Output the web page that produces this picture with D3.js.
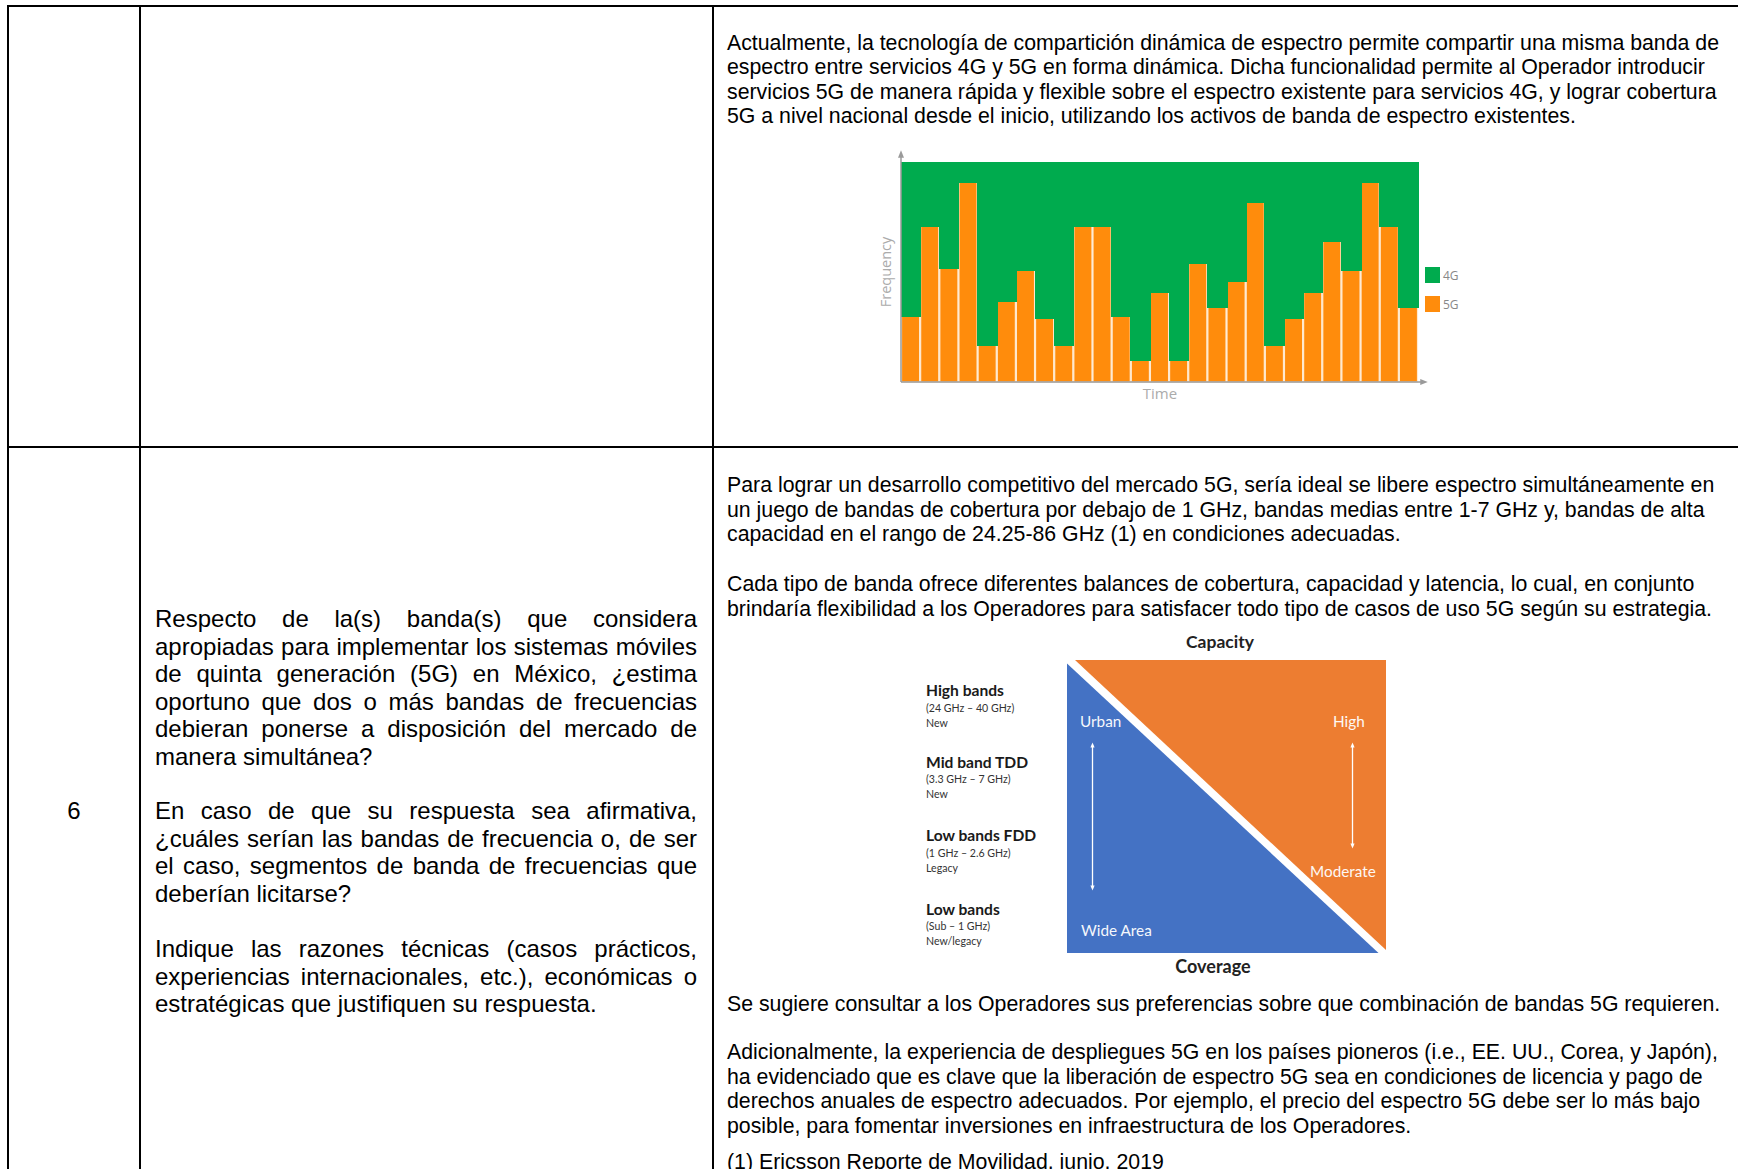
<!DOCTYPE html>
<html><head><meta charset="utf-8">
<script src="https://cdn.jsdelivr.net/npm/d3@7"></script>
<style>html,body{margin:0;padding:0;background:#fff;}svg{display:block;}</style>
</head><body>
<svg id="c" width="1738" height="1169"></svg>
<script>
// ---------- DATA ----------
const timeSlots = ["t1","t2","t3","t4","t5","t6","t7","t8","t9","t10","t11","t12","t13","t14","t15","t16","t17","t18","t19","t20","t21","t22","t23","t24","t25","t26","t27"];
const share5G = [30, 71, 52, 91, 17, 37, 51, 29, 17, 71, 71, 30, 10, 41, 10, 54, 34, 46, 82, 17, 29, 41, 64, 51, 91, 71, 34];
const share4G = [70, 29, 48, 9, 83, 63, 49, 71, 83, 29, 29, 70, 90, 59, 90, 46, 66, 54, 18, 83, 71, 59, 36, 49, 9, 29, 66];
const seriesNames = ["4G", "5G"];
const seriesColors = ["#00AB4E", "#FF8C0C"];
const axisTitles = {x: "Time", y: "Frequency"};

const bandNames = ["High bands", "Mid band TDD", "Low bands FDD", "Low bands"];
const bandRanges = ["(24 GHz \u2013 40 GHz)", "(3.3 GHz \u2013 7 GHz)", "(1 GHz \u2013 2.6 GHz)", "(Sub \u2013 1 GHz)"];
const bandStatus = ["New", "New", "Legacy", "New/legacy"];

const questionLines = [
  ["Respecto de la(s) banda(s) que considera", true],
  ["apropiadas para implementar los sistemas móviles", true],
  ["de quinta generación (5G) en México, ¿estima", true],
  ["oportuno que dos o más bandas de frecuencias", true],
  ["debieran ponerse a disposición del mercado de", true],
  ["manera simultánea?", false],
  ["En caso de que su respuesta sea afirmativa,", true],
  ["¿cuáles serían las bandas de frecuencia o, de ser", true],
  ["el caso, segmentos de banda de frecuencias que", true],
  ["deberían licitarse?", false],
  ["Indique las razones técnicas (casos prácticos,", true],
  ["experiencias internacionales, etc.), económicas o", true],
  ["estratégicas que justifiquen su respuesta.", false]
];
const questionBaselines = [627, 654.5, 682, 709.5, 737, 764.5, 819, 846.5, 874, 901.5, 957, 984.5, 1012];

const topAnswer = [
  "Actualmente, la tecnología de compartición dinámica de espectro permite compartir una misma banda de",
  "espectro entre servicios 4G y 5G en forma dinámica. Dicha funcionalidad permite al Operador introducir",
  "servicios 5G de manera rápida y flexible sobre el espectro existente para servicios 4G, y lograr cobertura",
  "5G a nivel nacional desde el inicio, utilizando los activos de banda de espectro existentes."
];
const topBaselines = [49.5, 74, 98.5, 122.5];
const answerA = [
  "Para lograr un desarrollo competitivo del mercado 5G, sería ideal se libere espectro simultáneamente en",
  "un juego de bandas de cobertura por debajo de 1 GHz, bandas medias entre 1-7 GHz y, bandas de alta",
  "capacidad en el rango de 24.25-86 GHz (1) en condiciones adecuadas.",
  "Cada tipo de banda ofrece diferentes balances de cobertura, capacidad y latencia, lo cual, en conjunto",
  "brindaría flexibilidad a los Operadores para satisfacer todo tipo de casos de uso 5G según su estrategia."
];
const answerABaselines = [492, 516.5, 541, 591, 615.5];
const answerB = [
  "Se sugiere consultar a los Operadores sus preferencias sobre que combinación de bandas 5G requieren.",
  "Adicionalmente, la experiencia de despliegues 5G en los países pioneros (i.e., EE. UU., Corea, y Japón),",
  "ha evidenciado que es clave que la liberación de espectro 5G sea en condiciones de licencia y pago de",
  "derechos anuales de espectro adecuados. Por ejemplo, el precio del espectro 5G debe ser lo más bajo",
  "posible, para fomentar inversiones en infraestructura de los Operadores.",
  "(1) Ericsson Reporte de Movilidad, junio, 2019"
];
const answerBBaselines = [1011, 1059, 1083.5, 1108, 1132.5, 1169];

// ---------- DRAW ----------
const svg = d3.select("#c");
const defs = svg.append("defs");
defs.append("marker").attr("id","gArrow").attr("viewBox","0 0 10 10").attr("refX",5).attr("refY",5)
  .attr("markerWidth",5).attr("markerHeight",5).attr("orient","auto-start-reverse")
  .append("path").attr("d","M0,1 L10,5 L0,9 z").attr("fill","#9a9a9a");
defs.append("marker").attr("id","wArrow").attr("viewBox","0 0 10 10").attr("refX",5).attr("refY",5)
  .attr("markerWidth",4).attr("markerHeight",4).attr("orient","auto-start-reverse")
  .append("path").attr("d","M0,1 L10,5 L0,9 z").attr("fill","#fff");

// table grid
const grid = svg.append("g").attr("stroke","#000").attr("stroke-width",2).attr("fill","none");
[6, 447].forEach(y => grid.append("line").attr("x1",7).attr("x2",1738).attr("y1",y).attr("y2",y));
[8, 140, 713].forEach(x => grid.append("line").attr("x1",x).attr("x2",x).attr("y1",5).attr("y2",1169));

// row number
svg.append("text").attr("x",74).attr("y",819).attr("text-anchor","middle")
  .attr("font-family","'Liberation Sans', Arial, sans-serif").attr("font-size",24).text("6");

// justified question text
const qg = svg.append("g").attr("font-family","'Liberation Sans', Arial, sans-serif").attr("font-size",24).attr("fill","#000");
const qLeft = 155, qRight = 697;
questionLines.forEach(([line, just], i) => {
  const y = questionBaselines[i];
  if (!just) { qg.append("text").attr("x",qLeft).attr("y",y).text(line); return; }
  const words = line.split(" ");
  const widths = words.map(w => {
    const t = qg.append("text").text(w);
    const wd = t.node().getComputedTextLength(); t.remove(); return wd;
  });
  const total = d3.sum(widths);
  const gap = (qRight - qLeft - total) / (words.length - 1);
  const t = qg.append("text").attr("y", y);
  let x = qLeft;
  words.forEach((w, k) => { t.append("tspan").attr("x", x).text(w); x += widths[k] + gap; });
});

// right column text
const ag = svg.append("g").attr("font-family","'Liberation Sans', Arial, sans-serif").attr("font-size",21.3).attr("fill","#000");
function block(lines, ys) {
  lines.forEach((l, i) => ag.append("text").attr("x",727).attr("y",ys[i]).text(l));
}
block(topAnswer, topBaselines);
block(answerA, answerABaselines);
block(answerB, answerBBaselines);

// ---------- Bar chart (DSS) ----------
const bc = {left: 901, right: 1418, top: 162, bottom: 382};
const x = d3.scaleBand().domain(timeSlots).range([bc.left, bc.right]).padding(0);
const y = d3.scaleLinear().domain([0, 100]).range([bc.bottom, bc.top]);
const stackData = timeSlots.map((t, i) => ({slot: t, "5G": share5G[i], "4G": share4G[i]}));
const stacked = d3.stack().keys(["5G", "4G"])(stackData);
const color = d3.scaleOrdinal().domain(seriesNames).range(seriesColors);
const barG = svg.append("g");
stacked.forEach(layer => {
  const is5 = layer.key === "5G";
  barG.append("g").attr("shape-rendering", is5 ? "auto" : "crispEdges")
    .selectAll("rect").data(layer).join("rect")
    .attr("x", d => x(d.data.slot) + (is5 ? 0.5 : -0.5))
    .attr("width", d => x.bandwidth() + (is5 ? -1 : 1.5))
    .attr("y", d => y(d[1]))
    .attr("height", d => y(d[0]) - y(d[1]) + (is5 ? 0 : 1))
    .attr("fill", color(layer.key))
    .attr("stroke", is5 ? "#ffe9cf" : "none")
    .attr("stroke-width", 1.2);
});
// axes with arrows
svg.append("line").attr("x1",bc.left).attr("x2",bc.left).attr("y1",bc.bottom).attr("y2",bc.top - 8)
  .attr("stroke","#9a9a9a").attr("stroke-width",1.5).attr("marker-end","url(#gArrow)");
svg.append("line").attr("x1",bc.left).attr("x2",bc.right + 6).attr("y1",bc.bottom).attr("y2",bc.bottom)
  .attr("stroke","#9a9a9a").attr("stroke-width",1.5).attr("marker-end","url(#gArrow)");
svg.append("text").attr("transform",`translate(${bc.left - 10},${(bc.top + bc.bottom)/2}) rotate(-90)`)
  .attr("text-anchor","middle").attr("font-family","'Open Sans', sans-serif").attr("font-size",14.5)
  .attr("fill","#ababab").text(axisTitles.y);
svg.append("text").attr("x",1160).attr("y",399).attr("text-anchor","middle")
  .attr("font-family","'Open Sans', sans-serif").attr("font-size",15).attr("fill","#ababab").text(axisTitles.x);
// legend
const lg = svg.append("g").attr("font-family","'Open Sans', sans-serif").attr("font-size",12).attr("fill","#888");
seriesNames.forEach((s, i) => {
  const ly = 267 + i * 29;
  lg.append("rect").attr("x",1425).attr("y",ly).attr("width",15).attr("height",16).attr("fill",color(s));
  lg.append("text").attr("x",1443).attr("y",ly + 12.5).text(s);
});

// ---------- Triangle diagram ----------
const tri = svg.append("g");
tri.append("path").attr("d","M1075,660 L1386,660 L1386,950 Z").attr("fill","#ED7D31");
tri.append("path").attr("d","M1067,663.5 L1067,953 L1378.5,953 Z").attr("fill","#4472C4");
const lato = "Lato, 'Open Sans', sans-serif";
tri.append("text").attr("x",1220).attr("y",648).attr("text-anchor","middle").attr("font-family",lato)
  .attr("font-weight","bold").attr("font-size",17.5).attr("fill","#222").text("Capacity");
tri.append("text").attr("x",1213).attr("y",973).attr("text-anchor","middle").attr("font-family",lato)
  .attr("font-weight","bold").attr("font-size",18).attr("fill","#222").text("Coverage");
const wt = [["Urban",1080,726.5],["High",1333,726.5],["Moderate",1310,877],["Wide Area",1081,935.5]];
wt.forEach(([t, tx, ty]) => tri.append("text").attr("x",tx).attr("y",ty).attr("font-family",lato)
  .attr("font-size",15.3).attr("fill","#fff").attr("opacity",0.95).text(t));
tri.append("line").attr("x1",1092.5).attr("x2",1092.5).attr("y1",745).attr("y2",888)
  .attr("stroke","#fff").attr("stroke-width",1.3).attr("marker-start","url(#wArrow)").attr("marker-end","url(#wArrow)");
tri.append("line").attr("x1",1352.5).attr("x2",1352.5).attr("y1",745).attr("y2",846)
  .attr("stroke","#fff").attr("stroke-width",1.3).attr("marker-start","url(#wArrow)").attr("marker-end","url(#wArrow)");
const bandY = [696, 767.5, 841, 914.5];
bandNames.forEach((b, i) => {
  tri.append("text").attr("x",926).attr("y",bandY[i]).attr("font-family",lato).attr("font-weight","bold")
    .attr("font-size",15.6).attr("fill","#1a1a1a").text(b);
  tri.append("text").attr("x",926).attr("y",bandY[i] + 15.5).attr("font-family",lato)
    .attr("font-size",10.6).attr("fill","#333").text(bandRanges[i]);
  tri.append("text").attr("x",926).attr("y",bandY[i] + 30.5).attr("font-family",lato)
    .attr("font-size",10.6).attr("fill","#333").text(bandStatus[i]);
});
</script>
</body></html>
